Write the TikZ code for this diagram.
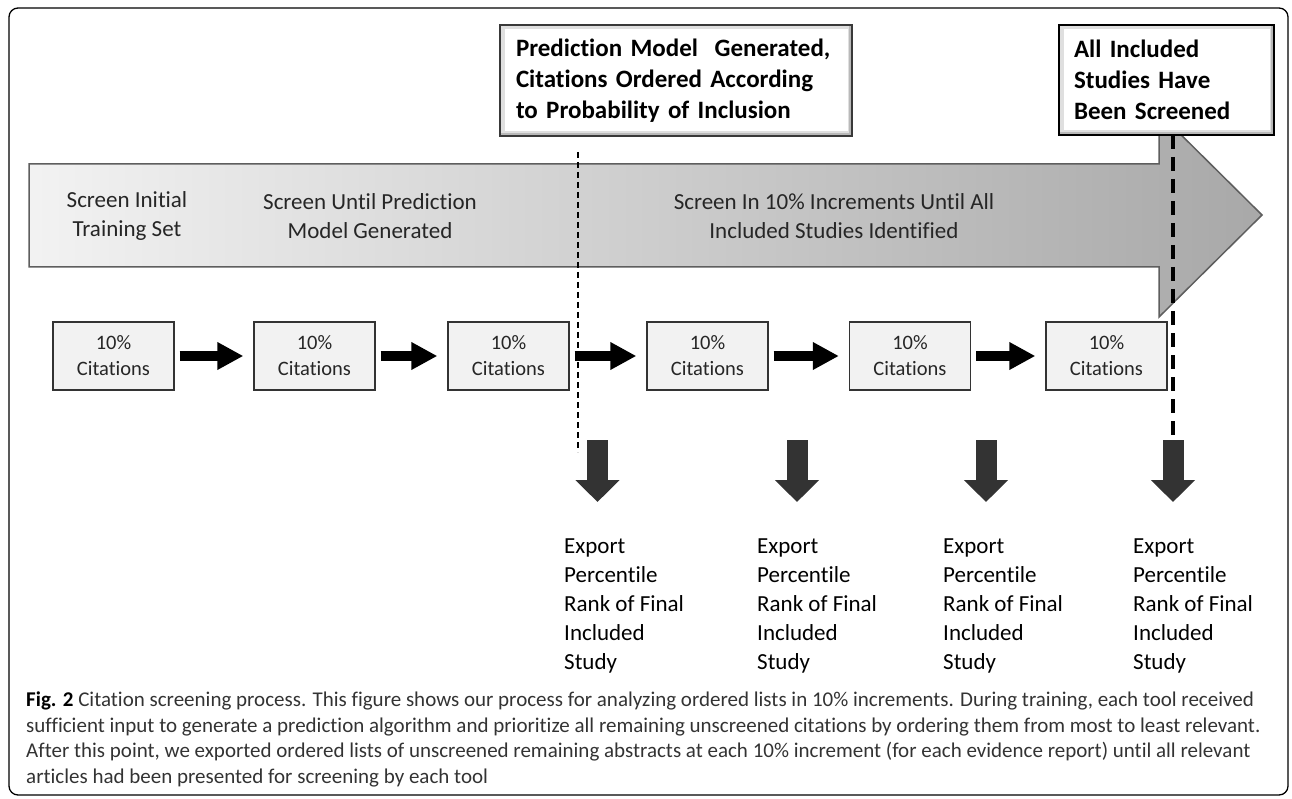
\documentclass[tikz,border=0pt]{standalone}
\usepackage{fontspec}
\setmainfont[Ligatures=NoCommon]{Carlito}
\usetikzlibrary{arrows.meta}

\tikzset{
	citbox/.style={draw=gray!40!black, line width=1.3pt, fill=gray!10, minimum width=121pt, minimum height=68pt, inner sep=0pt, align=center, text=black!85, font=\fontsize{20.5}{26}\selectfont},
	topbox/.style={draw=#1, line width=1.8pt, fill=white, inner sep=0pt, align=left, font=\bfseries\fontsize{25}{31}\selectfont,
		path picture={
			\draw[gray!25, line width=9pt] (path picture bounding box.south west) rectangle (path picture bounding box.north east);
			\draw[gray!55, line width=6pt] (path picture bounding box.south west) -- (path picture bounding box.south east) -- (path picture bounding box.north east);
		}},
	steparrow/.style={line width=10pt, -{Triangle[width=26pt,length=26pt]}, shorten <=5pt, shorten >=10pt},
	exportarrow/.style={line width=21pt, draw=black!80, -{Triangle[width=43pt,length=22pt]}},
	exporttext/.style={anchor=north west, inner sep=0pt, align=left, font=\fontsize{23}{29}\selectfont},
	bandtext/.style={align=center, inner sep=0pt, text=black!85, font=\fontsize{23}{29}\selectfont}
}

\begin{document}
\begin{tikzpicture}[x=1pt, y=-1pt]
	\useasboundingbox (0,0) rectangle (1292,799);
	
	%frame
	\draw[line width=1.3pt, rounded corners=9pt] (9,8) rectangle (1288,795);
	
	%big arrow
	\draw[draw=gray!60!black!90, line width=1.5pt, left color=gray!10, right color=gray!68] (29,164) -- (1159,164) -- (1159,113) -- (1262,215) -- (1159,317) -- (1159,267) -- (29,267) -- cycle;
	\node[bandtext] (s1) at (127,216){Screen Initial\\Training Set};
	\node[bandtext] (s2) at (370,216){Screen Until Prediction\\Model Generated};
	\node[bandtext] (s3) at (834,216){Screen In 10\% Increments Until All\\Included Studies Identified};
	
	%thin dashed line
	\coordinate (t1) at (578,152);
	\coordinate (t2) at (578,452);
	\draw[line width=1.2pt, dash pattern=on 6pt off 4pt] (t1) -- (t2);
	
	%top boxes
	\node[topbox=gray!45!black, minimum width=352pt, minimum height=111pt, text width=320pt] (pm) at (676,80.5){Prediction Model~~Generated,\\Citations Ordered According\\to Probability of Inclusion};
	\node[topbox=black, minimum width=215pt, minimum height=110pt, text width=185pt] (ai) at (1166.5,80){All Included\\Studies Have\\Been Screened};
	
	%citation boxes
	\node[citbox] (c1) at (113.5,356){10\%\\Citations};
	\node[citbox] (c2) at (314.5,356){10\%\\Citations};
	\node[citbox] (c3) at (508.5,356){10\%\\Citations};
	\node[citbox] (c4) at (707.5,356){10\%\\Citations};
	\node[citbox] (c5) at (910,356){10\%\\Citations};
	\node[citbox] (c6) at (1106.5,356){10\%\\Citations};
	
	\draw[steparrow] (c1) -- (c2);
	\draw[steparrow] (c2) -- (c3);
	\draw[steparrow] (c3) -- (c4);
	\draw[steparrow] (c4) -- (c5);
	\draw[steparrow] (c5) -- (c6);
	
	%thick dashed line
	\coordinate (k1) at (1173,135);
	\coordinate (k2) at (1173,440);
	\draw[line width=3.5pt, dash pattern=on 14pt off 8pt] (k1) -- (k2);
	
	%export arrows
	\coordinate (a1) at (597.5,440);
	\coordinate (b1) at (597.5,502);
	\coordinate (a2) at (797,440);
	\coordinate (b2) at (797,502);
	\coordinate (a3) at (986,440);
	\coordinate (b3) at (986,502);
	\coordinate (a4) at (1173,440);
	\coordinate (b4) at (1173,502);
	\draw[exportarrow] (a1) -- (b1);
	\draw[exportarrow] (a2) -- (b2);
	\draw[exportarrow] (a3) -- (b3);
	\draw[exportarrow] (a4) -- (b4);
	
	%export texts
	\node[exporttext] (e1) at (564,539){Export\\Percentile\\Rank of Final\\Included\\Study};
	\node[exporttext] (e2) at (757,539){Export\\Percentile\\Rank of Final\\Included\\Study};
	\node[exporttext] (e3) at (943,539){Export\\Percentile\\Rank of Final\\Included\\Study};
	\node[exporttext] (e4) at (1133,539){Export\\Percentile\\Rank of Final\\Included\\Study};
	
	%caption
	\node[anchor=north west, inner sep=0pt, align=left, text=black!80, font=\fontsize{21}{25.5}\selectfont] (cap) at (26,692){\textcolor{black}{\textbf{Fig. 2}} Citation screening process. This figure shows our process for analyzing ordered lists in 10\% increments. During training, each tool received\\sufficient input to generate a prediction algorithm and prioritize all remaining unscreened citations by ordering them from most to least relevant.\\After this point, we exported ordered lists of unscreened remaining abstracts at each 10\% increment (for each evidence report) until all relevant\\articles had been presented for screening by each tool};
	
\end{tikzpicture}
\end{document}
